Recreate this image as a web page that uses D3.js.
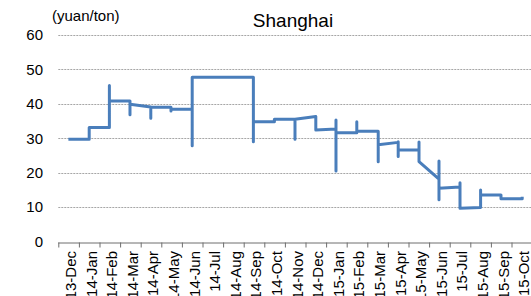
<!DOCTYPE html>
<html>
<head>
<meta charset="utf-8">
<script src="https://cdn.jsdelivr.net/npm/d3@7"></script>
<style>
  html, body { margin: 0; padding: 0; background: #fff; }
  svg { display: block; font-family: "Liberation Sans", Arial, sans-serif; }
</style>
</head>
<body>
<div class="chart-price"></div>
<script>
const months = ['13-Dec', '14-Jan', '14-Feb', '14-Mar', '14-Apr', '14-May', '14-Jun',
    '14-Jul', '14-Aug', '14-Sep', '14-Oct', '14-Nov', '14-Dec', '15-Jan', '15-Feb',
    '15-Mar', '15-Apr', '15-May', '15-Jun', '15-Jul', '15-Aug', '15-Sep', '15-Oct'];

const yTicks = [0, 10, 20, 30, 40, 50, 60];

// position along the month axis (months since start of 13-Dec) and price
const monthPos = [0.49, 1.5, 1.5, 2.48, 2.48, 2.48, 3.48, 3.48, 3.48, 4.49, 4.49, 4.49,
    5.47, 5.47, 5.47, 6.5, 6.5, 6.5, 9.47, 9.47, 9.47, 10.49, 10.49, 11.49, 11.49, 11.49,
    12.5, 12.5, 13.48, 13.48, 13.48, 13.48, 14.49, 14.49, 14.49, 15.53, 15.53, 15.53,
    16.5, 16.5, 16.5, 16.5, 17.51, 17.51, 17.51, 18.48, 18.48, 18.48, 18.48, 19.5, 19.5,
    19.5, 20.5, 20.5, 20.5, 21.49, 21.49, 22.52, 22.52];
const price = [29.7, 29.7, 33.1, 33.1, 45.3, 40.8, 40.8, 36.8, 39.9, 39.1, 35.8, 39.0,
    39.0, 37.9, 38.4, 38.4, 27.8, 47.7, 47.7, 29.0, 34.8, 34.8, 35.5, 35.5, 29.7, 35.5,
    36.3, 32.4, 32.7, 35.3, 20.5, 31.6, 31.6, 34.8, 32.0, 32.0, 23.2, 28.1,
    28.8, 29.0, 24.7, 26.6, 26.6, 28.9, 23.2, 18.1, 23.4, 12.1, 15.5, 15.8, 17.1,
    9.65, 9.9, 15.0, 13.5, 13.5, 12.4, 12.4, 13.0];

function priceChart() {
    const w = 531;
    const h = 296;
    const left = 58.3;
    const bandW = 20.6;

    const svg = d3.select('.chart-price').append('svg')
        .attr('width', w)
        .attr('height', h);

    const x = d3.scaleLinear()
        .domain([0, months.length])
        .range([left, left + months.length * bandW]);
    const y = d3.scaleLinear().domain([0, 60]).range([241.5, 35]);

    // grid
    svg.append('g')
        .selectAll('line')
        .data(yTicks.filter((d) => d > 0))
        .enter()
        .append('line')
        .attr('x1', left)
        .attr('x2', w)
        .attr('y1', (d) => Math.round(y(d)) + 0.5)
        .attr('y2', (d) => Math.round(y(d)) + 0.5)
        .attr('stroke', '#a6a6a6')
        .attr('stroke-dasharray', '2,1');

    // y labels
    svg.append('g')
        .selectAll('text')
        .data(yTicks)
        .enter()
        .append('text')
        .attr('x', 43)
        .attr('y', (d) => y(d))
        .attr('dy', '0.36em')
        .attr('text-anchor', 'end')
        .attr('font-size', 15)
        .attr('fill', '#000')
        .text((d) => d);

    // x axis
    const xAxis = d3.axisBottom(x)
        .tickValues(d3.range(0, months.length + 1))
        .tickSize(5)
        .tickFormat('');
    const gx = svg.append('g')
        .attr('transform', `translate(0,${Math.round(y(0)) + 0.5})`)
        .call(xAxis);
    gx.select('.domain').attr('stroke', '#6e6e6e').attr('d', `M${left},0.5H${w}`);
    gx.selectAll('.tick line').attr('stroke', '#6e6e6e');

    // month labels run off the bottom edge, as in the original
    svg.append('g')
        .selectAll('text')
        .data(months)
        .enter()
        .append('text')
        .attr('transform', (d, i) => `translate(${x(i + 0.5)},251) rotate(-90)`)
        .attr('dy', '0.49em')
        .attr('text-anchor', 'end')
        .attr('font-size', 15)
        .attr('fill', '#000')
        .text((d) => d);

    // price line
    const pts = monthPos.map((m, i) => [m, price[i]]);
    svg.append('path')
        .datum(pts)
        .attr('fill', 'none')
        .attr('stroke', '#4a7ebb')
        .attr('stroke-width', 3)
        .attr('stroke-linejoin', 'round')
        .attr('d', d3.line().x((d) => x(d[0])).y((d) => y(d[1])));

    svg.append('text')
        .attr('x', 52)
        .attr('y', 21)
        .attr('font-size', 15)
        .text('(yuan/ton)');

    svg.append('text')
        .attr('x', 293)
        .attr('y', 27)
        .attr('text-anchor', 'middle')
        .attr('font-size', 19)
        .text('Shanghai');
}

priceChart();
</script>
</body>
</html>
